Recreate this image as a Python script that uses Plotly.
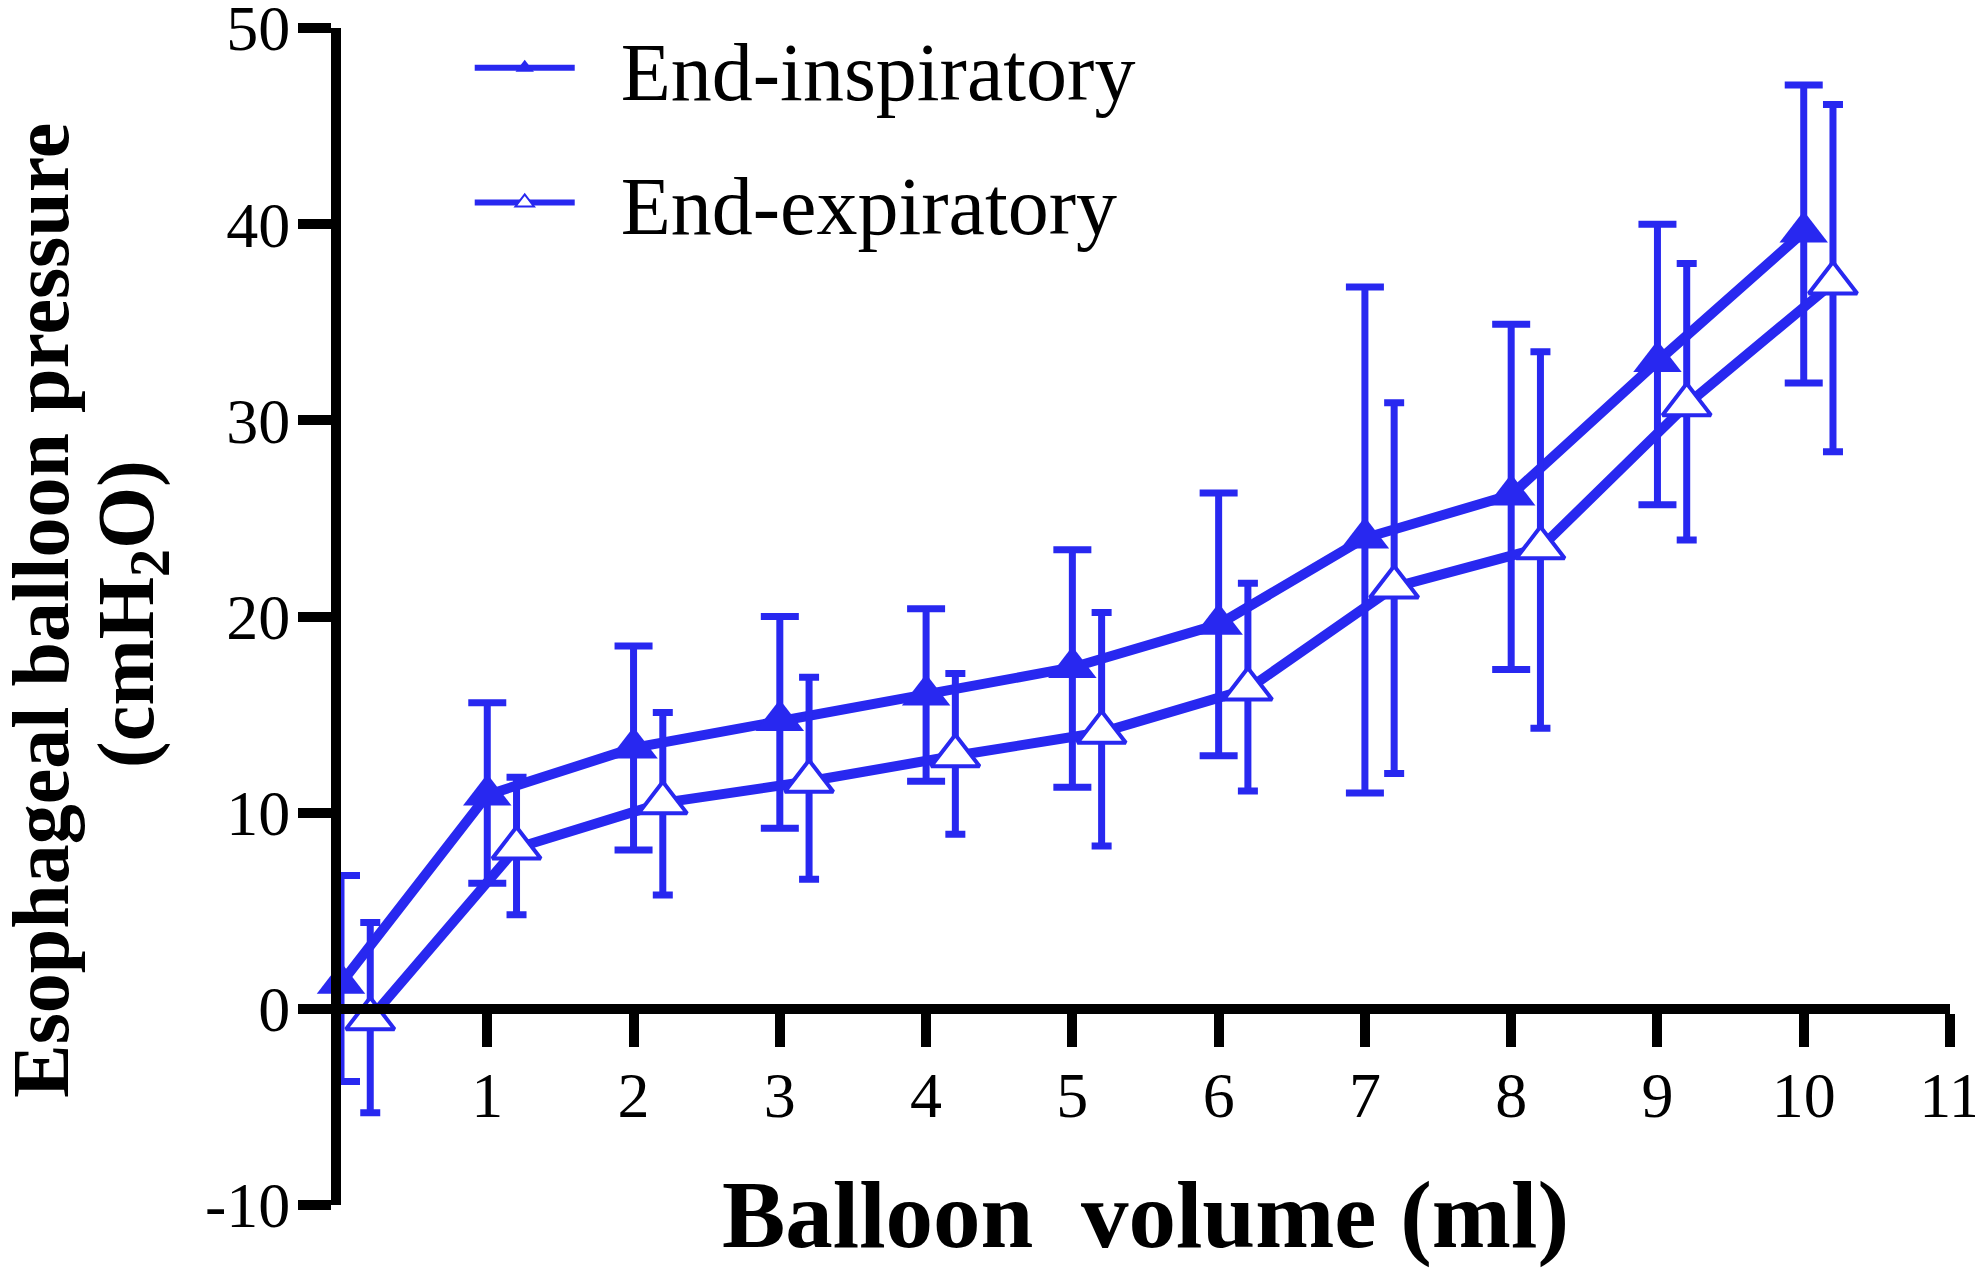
import plotly.graph_objects as go

# balloon volume (ml); expiratory points are nudged right like the original plot
volume = [0, 1, 2, 3, 4, 5, 6, 7, 8, 9, 10]
volume_exp = [0.2, 1.2, 2.2, 3.2, 4.2, 5.2, 6.2, 7.2, 8.2, 9.2, 10.2]

insp_mean = [1.3, 10.9, 13.3, 14.7, 16.0, 17.4, 19.6, 24.0, 26.2, 33.0, 39.6]
insp_upper = [6.8, 15.6, 18.5, 20.0, 20.4, 23.4, 26.3, 36.8, 34.9, 40.0, 47.1]
insp_lower = [-3.7, 6.4, 8.1, 9.2, 11.6, 11.3, 12.9, 11.0, 17.3, 25.7, 31.9]

exp_mean = [-0.5, 8.2, 10.5, 11.6, 12.9, 14.1, 16.3, 21.5, 23.5, 30.8, 37.0]
exp_upper = [4.4, 11.8, 15.1, 16.9, 17.1, 20.2, 21.7, 30.9, 33.5, 38.0, 46.1]
exp_lower = [-5.3, 4.8, 5.8, 6.6, 8.9, 8.3, 11.1, 12.0, 14.3, 23.9, 28.4]

x_ticks = [1, 2, 3, 4, 5, 6, 7, 8, 9, 10, 11]
y_ticks = [-10, 0, 10, 20, 30, 40, 50]
y_labels = ['-10', '0', '10', '20', '30', '40', '50']

BLUE = '#2828f0'
SERIF = 'Liberation Serif, Times New Roman, serif'
NB = '\u00a0'


def err(mean, upper, lower):
    return [u - m for u, m in zip(upper, mean)], [m - l for m, l in zip(mean, lower)]


insp_plus, insp_minus = err(insp_mean, insp_upper, insp_lower)
exp_plus, exp_minus = err(exp_mean, exp_upper, exp_lower)

fig = go.Figure()
fig.add_trace(go.Scatter(
    x=volume, y=insp_mean, name='End-inspiratory', mode='lines+markers',
    legendgroup='insp', showlegend=False,
    line=dict(color=BLUE, width=10),
    marker=dict(symbol='triangle-up', size=42, color=BLUE, line=dict(width=0)),
    error_y=dict(type='data', symmetric=False, array=insp_plus, arrayminus=insp_minus,
                 color=BLUE, thickness=7, width=19),
    cliponaxis=False,
))
fig.add_trace(go.Scatter(
    x=volume_exp, y=exp_mean, name='End-expiratory', mode='lines+markers',
    legendgroup='exp', showlegend=False,
    line=dict(color=BLUE, width=10),
    marker=dict(symbol='triangle-up', size=42, color='white', line=dict(color=BLUE, width=4)),
    error_y=dict(type='data', symmetric=False, array=exp_plus, arrayminus=exp_minus,
                 color=BLUE, thickness=7, width=10),
    cliponaxis=False,
))

# legend-only entries: thinner line so the triangle shows in the key
fig.add_trace(go.Scatter(
    x=[None], y=[None], name=NB * 2 + 'End-inspiratory', mode='lines+markers',
    legendgroup='insp', line=dict(color=BLUE, width=6),
    marker=dict(symbol='triangle-up', size=16, color=BLUE, line=dict(width=0)),
))
fig.add_trace(go.Scatter(
    x=[None], y=[None], name=NB * 2 + 'End-expiratory', mode='lines+markers',
    legendgroup='exp', line=dict(color=BLUE, width=6),
    marker=dict(symbol='triangle-up', size=16, color='white', line=dict(color=BLUE, width=2)),
))

# two-line y title, placed by hand (plotly's title line spacing is too loose)
y_title = dict(xref='paper', yref='paper', textangle=-90, showarrow=False,
               xanchor='center', yanchor='middle',
               font=dict(family=SERIF, size=80, color='black'))
fig.add_annotation(text='<b>Esophageal balloon pressure</b>', x=-0.187, y=0.505, **y_title)
fig.add_annotation(text='<b>(cmH<sub>2</sub>O)</b>', x=-0.130, y=0.502, **y_title)

# page body keeps its 8px default margin, so the figure is 8px smaller than the window
fig.update_layout(
    width=1975, height=1265,
    margin=dict(l=333, r=33, t=20, b=68, autoexpand=False),
    paper_bgcolor='white', plot_bgcolor='white',
    font=dict(family=SERIF, color='black'),
    showlegend=True,
    legend=dict(x=0.08, y=1.0, xanchor='left', yanchor='top', yref='container',
                font=dict(family=SERIF, size=82, color='black'),
                itemwidth=100, traceorder='grouped', tracegroupgap=25,
                bgcolor='rgba(0,0,0,0)'),
    xaxis=dict(
        range=[0, 11], anchor='free', position=1 / 6, automargin=False,
        tickvals=x_ticks, ticktext=[str(v) for v in x_ticks],
        ticks='outside', ticklen=33, tickwidth=10, tickcolor='black',
        ticklabelstandoff=-7, ticklabeloverflow='allow',
        showline=True, linewidth=10, linecolor='black',
        showgrid=False, zeroline=False,
        tickfont=dict(family=SERIF, size=64, color='black'),
        title=dict(text='<b>Balloon' + NB + ' volume (ml)</b>', standoff=50,
                   font=dict(family=SERIF, size=95, color='black')),
    ),
    yaxis=dict(
        range=[-10, 50], tickvals=y_ticks, ticktext=y_labels, automargin=False,
        ticks='outside', ticklen=33, tickwidth=10, tickcolor='black',
        ticklabelstandoff=-5, ticklabeloverflow='allow',
        showline=True, linewidth=10, linecolor='black',
        showgrid=False, zeroline=False,
        tickfont=dict(family=SERIF, size=64, color='black'),
    ),
)

fig.write_html('out.html')
